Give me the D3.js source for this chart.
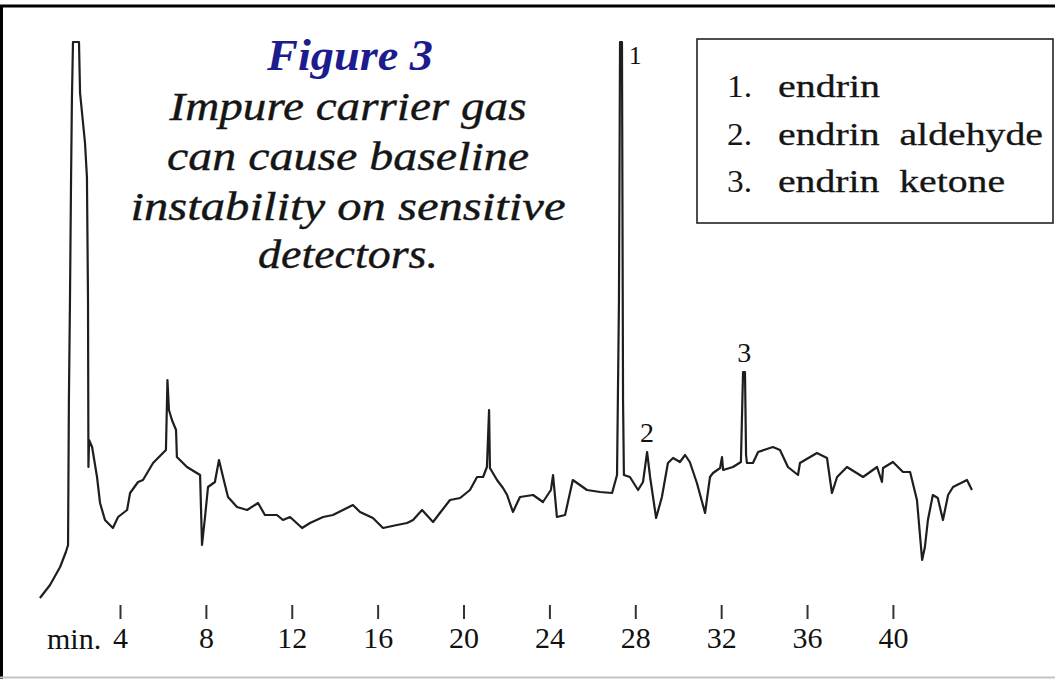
<!DOCTYPE html>
<html>
<head>
<meta charset="utf-8">
<script src="https://cdn.jsdelivr.net/npm/d3@7"></script>
<style>
  html, body { margin: 0; padding: 0; background: #fff; }
  svg { display: block; }
  text { font-family: "Liberation Serif", "Times New Roman", serif; }
</style>
</head>
<body>
<div id="chart"></div>
<script>

// retention time (min) and detector response
var times = [
	0.27, 0.74, 1.21, 1.48, 1.58, 1.62, 1.67, 1.72, 1.76, 1.81, 2.09, 2.14, 2.37, 2.46, 2.51, 2.53, 2.56, 2.70, 2.93, 3.07,
	3.30, 3.67, 3.91, 4.33, 4.47, 4.84, 5.07, 5.54, 6.00, 6.14, 6.21, 6.28, 6.42, 6.61, 6.65, 7.12, 7.73, 7.82, 7.96, 8.10,
	8.42, 8.61, 8.80, 9.03, 9.45, 9.92, 10.43, 10.75, 11.31, 11.59, 11.92, 12.48, 12.85, 13.46, 13.92, 14.57, 14.85, 15.18, 15.78, 16.25,
	16.90, 17.37, 17.65, 18.07, 18.58, 18.90, 19.37, 19.84, 20.30, 20.63, 20.91, 21.09, 21.19, 21.23, 21.56, 21.84, 22.03, 22.30, 22.63, 23.24,
	23.70, 24.07, 24.17, 24.35, 24.73, 25.09, 25.75, 26.36, 26.92, 27.15, 27.24, 27.29, 27.38, 27.43, 27.47, 27.75, 28.13, 28.36, 28.55, 28.69,
	28.97, 29.24, 29.52, 29.76, 30.08, 30.32, 30.54, 30.87, 31.25, 31.48, 31.62, 31.95, 32.04, 32.09, 32.55, 32.92, 33.02, 33.11, 33.16, 33.20,
	33.48, 33.72, 34.41, 34.74, 35.11, 35.58, 35.67, 36.46, 36.93, 37.16, 37.40, 37.86, 38.61, 39.26, 39.49, 39.54, 40.00, 40.47, 40.80, 41.12,
	41.36, 41.49, 41.63, 41.86, 42.09, 42.33, 42.57, 42.80, 43.45, 43.68
];
var response = [
	2, 15, 33, 48, 55, 200, 300, 420, 500, 558, 558, 507, 457, 423, 300, 133, 160, 153, 123, 97,
	80, 72, 83, 90, 107, 118, 120, 137, 147, 150, 220, 190, 180, 170, 143, 133, 125, 55, 83, 113,
	118, 140, 123, 103, 93, 90, 97, 85, 85, 80, 83, 72, 77, 83, 85, 92, 95, 88, 82, 72,
	75, 77, 80, 90, 78, 87, 100, 102, 110, 123, 123, 133, 190, 132, 120, 112, 105, 88, 103, 105,
	98, 110, 125, 83, 85, 120, 110, 108, 107, 125, 300, 558, 558, 200, 125, 123, 110, 118, 148, 123,
	82, 103, 137, 142, 138, 145, 138, 117, 87, 123, 127, 132, 143, 130, 133, 138, 228, 228, 145, 137,
	137, 148, 153, 150, 133, 125, 137, 147, 142, 107, 123, 133, 123, 133, 118, 132, 138, 128, 128, 100,
	40, 53, 80, 105, 102, 80, 105, 113, 120, 110
];

var tickValues = [4, 8, 12, 16, 20, 24, 28, 32, 36, 40];

var peakIds = ["1", "2", "3"];
var peakTimes = [27.34, 28.55, 33.07];
var peakTops = [558, 148, 228];

var legendNums = ["1.", "2.", "3."];
var legendNames = ["endrin", "endrin  aldehyde", "endrin  ketone"];

var titleLines = ["Impure carrier gas", "can cause baseline", "instability on sensitive", "detectors."];

var width = 1055, height = 679;

var svg = d3.select("#chart")
	.append("svg")
	.attr("width", width)
	.attr("height", height);

// frame
svg.append("line").attr("x1", 0).attr("x2", width).attr("y1", 6).attr("y2", 6)
	.attr("stroke", "#000").attr("stroke-width", 3);
svg.append("line").attr("x1", 1.5).attr("x2", 1.5).attr("y1", 5).attr("y2", height)
	.attr("stroke", "#000").attr("stroke-width", 3);
svg.append("line").attr("x1", 0).attr("x2", width).attr("y1", 677.5).attr("y2", 677.5)
	.attr("stroke", "#c4c4c4").attr("stroke-width", 2);

// scales
var x = d3.scaleLinear()
	.domain([0, 45])
	.range([34.12, 34.12 + 45 * 21.47]);

var y = d3.scaleLinear()
	.domain([0, 560])
	.range([600, 40]);

var data = times.map(function(t, i) { return {t: t, r: response[i]}; });

var line = d3.line()
	.x(function(d) { return x(d.t); })
	.y(function(d) { return y(d.r); });

svg.append("path")
	.datum(data)
	.attr("d", line)
	.attr("fill", "none")
	.attr("stroke", "#1e1e1e")
	.attr("stroke-width", 2.2)
	.attr("stroke-linejoin", "round");

// axis: detached tick marks, no domain line
var axis = d3.axisBottom(x)
	.tickValues(tickValues)
	.tickSizeInner(14)
	.tickSizeOuter(0)
	.tickPadding(8)
	.tickFormat(d3.format("d"));

var gx = svg.append("g")
	.attr("transform", "translate(0, 605)")
	.call(axis);

gx.select(".domain").remove();
gx.selectAll(".tick line").attr("stroke", "#333").attr("stroke-width", 2);
gx.selectAll(".tick text")
	.attr("fill", "#111")
	.style("font-family", "'Liberation Serif', 'Times New Roman', serif")
	.style("font-size", "30px");

svg.append("text")
	.attr("x", 47)
	.attr("y", 649)
	.attr("fill", "#111")
	.style("font-size", "30px")
	.text("min.");

// peak labels
svg.selectAll(".peak")
	.data(peakIds)
	.enter()
	.append("text")
	.attr("class", "peak")
	.attr("x", function(d, i) { return i == 0 ? x(peakTimes[i]) + 8 : x(peakTimes[i]); })
	.attr("y", function(d, i) { return i == 0 ? y(peakTops[i]) + 22 : y(peakTops[i]) - 10; })
	.attr("text-anchor", function(d, i) { return i == 0 ? "start" : "middle"; })
	.attr("fill", "#111")
	.style("font-size", function(d, i) { return i == 0 ? "25px" : "28px"; })
	.text(function(d) { return d; });

// title
svg.append("text")
	.attr("x", 350)
	.attr("y", 70)
	.attr("text-anchor", "middle")
	.attr("fill", "#1c1c8e")
	.attr("textLength", 166)
	.attr("lengthAdjust", "spacingAndGlyphs")
	.style("font-size", "44px")
	.style("font-weight", "bold")
	.style("font-style", "italic")
	.text("Figure 3");

var lineWidths = [357, 362, 435, 180];
var lineBase = [120, 170, 220, 268];

svg.selectAll(".subtitle")
	.data(titleLines)
	.enter()
	.append("text")
	.attr("class", "subtitle")
	.attr("x", 348)
	.attr("y", function(d, i) { return lineBase[i]; })
	.attr("text-anchor", "middle")
	.attr("fill", "#151515")
	.attr("stroke", "#151515")
	.attr("stroke-width", 0.4)
	.attr("textLength", function(d, i) { return lineWidths[i]; })
	.attr("lengthAdjust", "spacingAndGlyphs")
	.style("font-size", "41px")
	.style("font-style", "italic")
	.text(function(d) { return d; });

// legend box
svg.append("rect")
	.attr("x", 697)
	.attr("y", 39)
	.attr("width", 356)
	.attr("height", 184)
	.attr("fill", "none")
	.attr("stroke", "#222")
	.attr("stroke-width", 1.6);

var nameWidths = [102, 265, 227];

var lg = svg.selectAll(".legend")
	.data(legendNames)
	.enter()
	.append("g")
	.attr("class", "legend")
	.attr("transform", function(d, i) { return "translate(0," + (97 + i * 47.5) + ")"; });

lg.append("text")
	.attr("x", 727)
	.attr("fill", "#151515")
	.attr("textLength", 25)
	.attr("lengthAdjust", "spacingAndGlyphs")
	.style("font-size", "31px")
	.text(function(d, i) { return legendNums[i]; });

lg.append("text")
	.attr("x", 778)
	.attr("fill", "#151515")
	.attr("stroke", "#151515")
	.attr("stroke-width", 0.3)
	.attr("textLength", function(d, i) { return nameWidths[i]; })
	.attr("lengthAdjust", "spacingAndGlyphs")
	.style("font-size", "31px")
	.style("white-space", "pre")
	.text(function(d) { return d; });

</script>
</body>
</html>
